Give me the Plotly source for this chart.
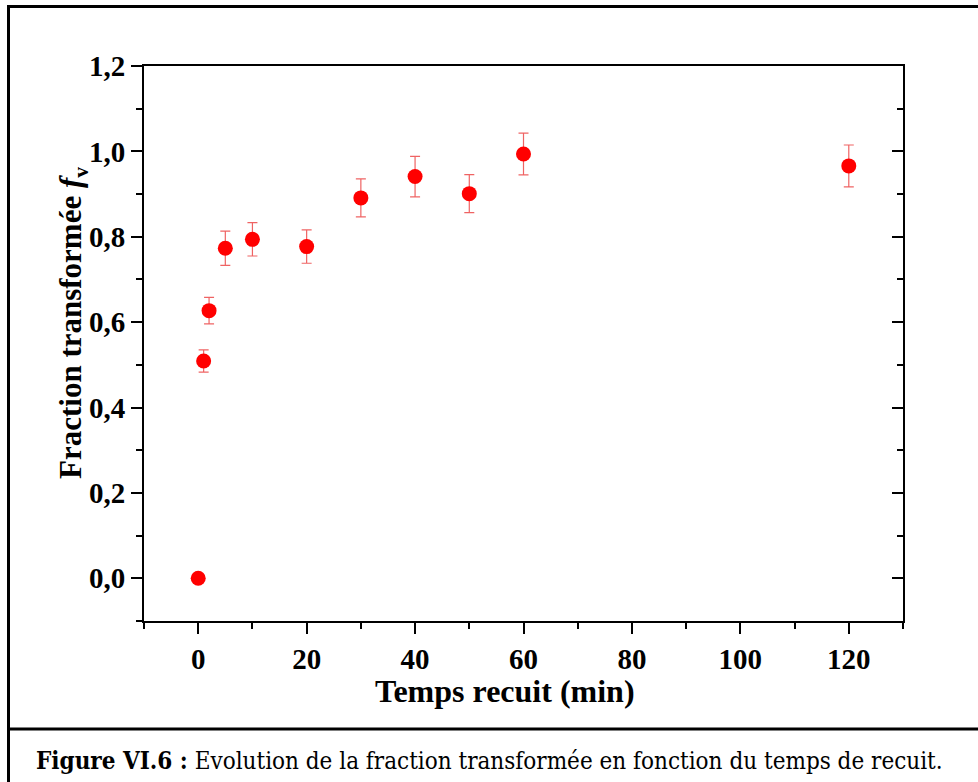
import plotly.graph_objects as go

# Annealing time (min) and transformed fraction f_v with its uncertainty
temps = [0, 1, 2, 5, 10, 20, 30, 40, 50, 60, 120]
fraction = [0.0, 0.509, 0.627, 0.773, 0.794, 0.777, 0.891, 0.941, 0.901, 0.994, 0.966]
erreur = [0.0, 0.026, 0.031, 0.040, 0.039, 0.039, 0.0445, 0.0475, 0.0445, 0.049, 0.049]

W, H = 978, 782
L, R, T, B = 144, 903, 66, 621          # plot area in pixels
pw, ph = R - L, B - T

def px(x):
    return (x - L) / pw

def py(y):
    return (B - y) / ph

serif = "Liberation Serif"
axis_font = dict(family=serif, size=29, color="black", weight="bold")

fig = go.Figure()
fig.add_trace(go.Scatter(
    x=temps, y=fraction, mode="markers",
    marker=dict(color="#ff0000", size=15, symbol="circle"),
    error_y=dict(type="data", array=erreur, visible=True,
                 color="rgba(235,60,60,0.8)", thickness=1.2, width=5),
    showlegend=False, cliponaxis=False,
))
# invisible trace so the right-hand tick axis is drawn
fig.add_trace(go.Scatter(x=[temps[0]], y=[fraction[0]], yaxis="y2",
                         mode="markers", marker=dict(opacity=0),
                         showlegend=False, hoverinfo="skip"))

fig.update_layout(
    width=W, height=H,
    margin=dict(l=L, r=W - R, t=T, b=H - B),
    paper_bgcolor="white", plot_bgcolor="white",
    separators=", ",
    xaxis=dict(range=[-10, 130], tick0=0, dtick=20, ticks="outside",
               ticklen=11, tickwidth=2, tickcolor="black",
               showline=True, linecolor="black", linewidth=2, mirror=True,
               showgrid=False, zeroline=False, tickfont=axis_font,
               minor=dict(dtick=10, tick0=0, ticks="outside", ticklen=6,
                          tickwidth=2, tickcolor="black", showgrid=False)),
    yaxis=dict(range=[-0.1, 1.2], tick0=0, dtick=0.2, tickformat=".1f",
               ticks="outside", ticklen=11, tickwidth=2, tickcolor="black",
               showline=True, linecolor="black", linewidth=2, mirror=True,
               showgrid=False, zeroline=False, tickfont=axis_font,
               minor=dict(dtick=0.1, tick0=0, ticks="outside", ticklen=6,
                          tickwidth=2, tickcolor="black", showgrid=False)),
    yaxis2=dict(range=[-0.1, 1.2], overlaying="y", side="right",
                tick0=0, dtick=0.2, ticks="inside", ticklen=11, tickwidth=2,
                tickcolor="black", showticklabels=False, showgrid=False,
                zeroline=False, showline=False,
                minor=dict(dtick=0.1, tick0=0, ticks="inside", ticklen=6,
                           tickwidth=2, tickcolor="black", showgrid=False)),
)

# axis titles
title_font = dict(family=serif, size=32, color="black", weight="bold")
fig.add_annotation(x=px(505), y=py(691), xref="paper", yref="paper",
                   xanchor="center", yanchor="middle",
                   text="Temps recuit (min)", showarrow=False, font=title_font)
fig.add_annotation(x=px(73), y=py(323), xref="paper", yref="paper",
                   xanchor="center", yanchor="middle",
                   text="Fraction transformée <i>f</i><sub>v</sub>",
                   textangle=-90, showarrow=False,
                   font=dict(family=serif, size=31, color="black", weight="bold"))

# caption
fig.add_annotation(x=px(489), y=py(760), xref="paper", yref="paper",
                   xanchor="center", yanchor="middle",
                   text="<b>Figure VI.6 :</b> Evolution de la fraction transformée en fonction du temps de recuit.",
                   showarrow=False,
                   font=dict(family="DejaVu Serif Condensed, Liberation Serif",
                             size=24, color="black"))

# figure frame and caption separator
frame = dict(color="black", width=3)
fig.add_shape(type="rect", xref="paper", yref="paper",
              x0=px(8.5), x1=px(990), y0=py(6.5), y1=py(800), line=frame)
fig.add_shape(type="line", xref="paper", yref="paper",
              x0=px(8.5), x1=px(990), y0=py(729), y1=py(729), line=frame)

fig.write_html("out.html")
